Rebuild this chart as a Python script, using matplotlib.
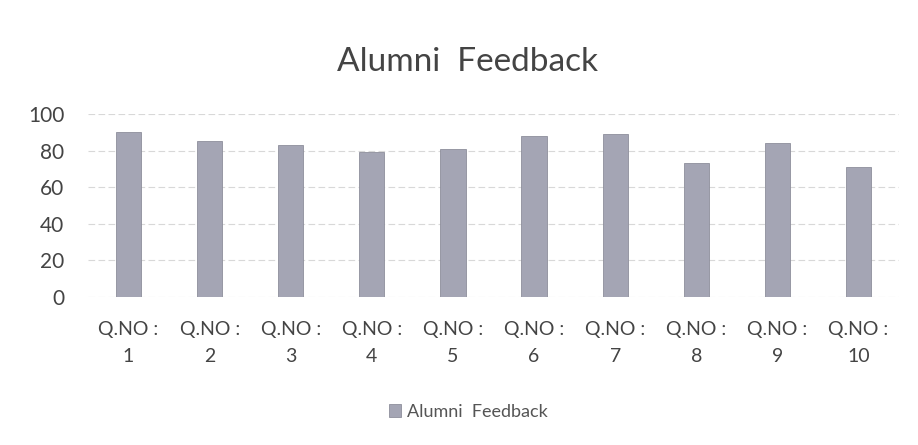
import matplotlib
matplotlib.use("Agg")
import matplotlib.pyplot as plt
import numpy as np

categories = ["Q.NO :\n1", "Q.NO :\n2", "Q.NO :\n3", "Q.NO :\n4", "Q.NO :\n5",
              "Q.NO :\n6", "Q.NO :\n7", "Q.NO :\n8", "Q.NO :\n9", "Q.NO :\n10"]
values = [90, 85, 83, 79, 81, 88, 89, 73, 84, 71]
series_name = "Alumni  Feedback"
title = "Alumni  Feedback"
yticks = [0, 20, 40, 60, 80, 100]

plt.rcParams['font.family'] = ['Lato', 'DejaVu Sans']

fig = plt.figure(figsize=(9.18, 4.45), dpi=100)
ax = fig.add_axes([88/918, 1 - 297/445, (899-88)/918, (297-114)/445])

x = np.arange(len(categories))
ax.bar(x, values, width=0.31, color="#a4a5b4", edgecolor="#8e8f9c", linewidth=0.6,
       label=series_name, zorder=3)

ax.set_xlim(-0.5, len(categories) - 0.5)
ax.set_ylim(0, 100)
ax.set_yticks(yticks)
ax.set_yticklabels([str(t) for t in yticks], fontsize=15, color="#444444")
ax.set_xticks(x)
ax.set_xticklabels(categories, fontsize=14, color="#444444", linespacing=1.75)
ax.tick_params(axis='both', length=0)
ax.tick_params(axis='x', pad=17)
ax.tick_params(axis='y', pad=17)

ax.grid(axis='y', color="#d8d8d8", linewidth=0.8, linestyle=(0, (6, 3)), zorder=0)
for s in ax.spines.values():
    s.set_visible(False)

fig.text(468/918, 1 - 62/445, title, ha='center', va='center', fontsize=24,
         color="#444444")

fig.legend(loc='center', bbox_to_anchor=(468/918, 1 - 412/445), frameon=False,
           fontsize=13, handlelength=0.7, handleheight=0.7, handletextpad=0.3,
           labelcolor="#555555")

fig.savefig("out.png", dpi=100, facecolor="white")
